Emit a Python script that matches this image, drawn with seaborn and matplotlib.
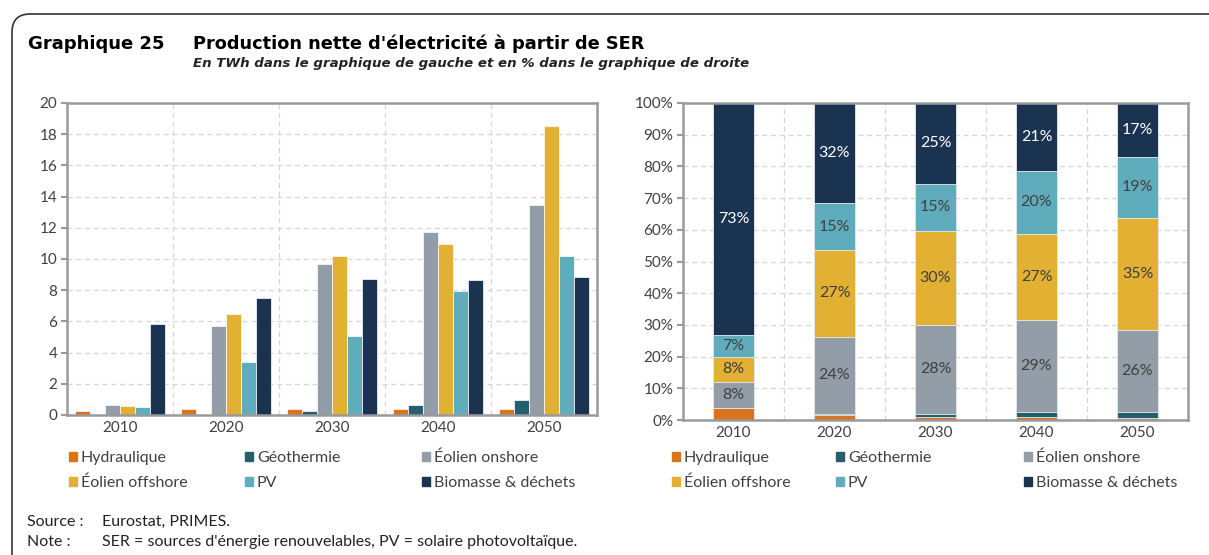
import matplotlib.pyplot as plt
import matplotlib.patches as mpatches
from matplotlib.ticker import FixedLocator, PercentFormatter
import numpy as np
import pandas as pd
import seaborn as sns

years = ["2010", "2020", "2030", "2040", "2050"]
sources = ["Hydraulique", "Géothermie", "Éolien onshore", "Éolien offshore", "PV", "Biomasse & déchets"]
colors = ["#D9731E", "#265E6F", "#939DA8", "#E2B033", "#5FACBC", "#1A3350"]

# TWh (left chart)
hydro = [0.25, 0.36, 0.36, 0.38, 0.38]
geo = [0.0, 0.02, 0.26, 0.64, 0.94]
onshore = [0.64, 5.73, 9.71, 11.72, 13.45]
offshore = [0.6, 6.46, 10.18, 10.93, 18.5]
pv = [0.51, 3.4, 5.09, 7.98, 10.18]
biomass = [5.84, 7.49, 8.75, 8.66, 8.83]

# % (right chart)
hydro_pct = [3.9, 1.5, 1.0, 0.9, 0.7]
geo_pct = [0.0, 0.4, 0.8, 1.6, 1.9]
onshore_pct = [8.1, 24.4, 28.3, 29.1, 25.7]
offshore_pct = [7.9, 27.3, 29.6, 27.1, 35.4]
pv_pct = [7.0, 14.7, 14.9, 20.0, 19.3]
biomass_pct = [73.1, 31.7, 25.4, 21.3, 17.0]

twh = [hydro, geo, onshore, offshore, pv, biomass]
pct = [hydro_pct, geo_pct, onshore_pct, offshore_pct, pv_pct, biomass_pct]

df = pd.DataFrame([(y, s, v[i]) for s, v in zip(sources, twh) for i, y in enumerate(years)],
                  columns=["year", "source", "value"])

sns.set_style("white")
plt.rcParams["font.family"] = ["Lato", "DejaVu Sans"]
txt = "#404040"
spine_c = "#9A9A9A"
grid_c = "#D6D6D6"

W, H = 1209, 555
fig = plt.figure(figsize=(W / 100, H / 100), dpi=100)

def px(x0, y0, x1, y1):
    return [x0 / W, 1 - y1 / H, (x1 - x0) / W, (y1 - y0) / H]

def style_axes(ax):
    for sp in ax.spines.values():
        sp.set_visible(True)
        sp.set_color(spine_c)
        sp.set_linewidth(1.8)
    ax.set_xlim(-0.5, 4.5)
    ax.xaxis.set_minor_locator(FixedLocator(np.arange(-0.5, 5, 1)))
    ax.tick_params(axis="x", which="major", length=0, labelsize=11, labelcolor=txt, pad=4)
    ax.tick_params(axis="x", which="minor", length=5, width=1.5, color=spine_c, direction="out")
    ax.tick_params(axis="y", which="major", length=4, width=1.5, color=spine_c, labelsize=11,
                   labelcolor=txt, left=True, pad=3)
    ax.grid(True, axis="y", which="major", color=grid_c, linestyle=(0, (4, 3)), linewidth=0.9)
    ax.grid(True, axis="x", which="minor", color=grid_c, linestyle=(0, (4, 3)), linewidth=0.9)
    ax.set_axisbelow(True)
    ax.set_xlabel("")
    ax.set_ylabel("")

# left chart
ax1 = fig.add_axes(px(67, 103, 597, 415))
sns.barplot(data=df, x="year", y="value", hue="source", hue_order=sources, palette=colors,
            width=0.84, saturation=1, edgecolor="white", linewidth=0.5, legend=False, ax=ax1)
ax1.set_ylim(0, 20)
ax1.set_yticks(np.arange(0, 21, 2))
style_axes(ax1)

# right chart (stacked, drawn from the top layer down)
ax2 = fig.add_axes(px(683, 103, 1188, 420))
cum = np.cumsum(np.array(pct), axis=0)
cum = cum / cum[-1] * 100
for k in range(len(sources) - 1, -1, -1):
    sns.barplot(x=years, y=cum[k], color=colors[k], width=0.4, saturation=1,
                edgecolor="#E8ECEF", linewidth=0.6, ax=ax2)
ax2.set_ylim(0, 100)
ax2.set_yticks(np.arange(0, 101, 10))
ax2.yaxis.set_major_formatter(PercentFormatter(decimals=0))
style_axes(ax2)
for k in range(len(sources)):
    for i in range(len(years)):
        v = pct[k][i]
        if v < 5:
            continue
        mid = cum[k][i] - v / 2
        ax2.text(i, mid, f"{v:.0f}%", ha="center", va="center", fontsize=11.5,
                 color="white" if k == 5 else txt)

# legends: three columns of two rows under each chart
for col_x in [(69, 245, 422), (672, 836, 1024)]:
    for j, x in enumerate(col_x):
        handles = [mpatches.Patch(color=colors[i], label=sources[i]) for i in (j, j + 3)]
        leg = fig.legend(handles=handles, ncol=1, loc="upper left",
                         bbox_to_anchor=(x / W, 1 - 451 / H), frameon=False, fontsize=11.5,
                         handlelength=0.5, handleheight=0.5, handletextpad=0.25,
                         labelspacing=0.68, borderaxespad=0, borderpad=0)
        for t in leg.get_texts():
            t.set_color(txt)

# titles and notes
fig.text(28 / W, 1 - 44 / H, "Graphique 25", fontsize=13, fontweight="bold", color="black",
         va="center", family="DejaVu Sans")
fig.text(193 / W, 1 - 44 / H, "Production nette d'électricité à partir de SER", fontsize=12.8,
         fontweight="bold", color="black", va="center", family="DejaVu Sans")
fig.text(193 / W, 1 - 64 / H, "En TWh dans le graphique de gauche et en % dans le graphique de droite",
         fontsize=9.6, fontweight="bold", style="italic", color="#222222", va="center",
         family="DejaVu Sans")
fig.text(27 / W, 1 - 522 / H, "Source :", fontsize=11.5, color="#222222", va="center")
fig.text(102 / W, 1 - 522 / H, "Eurostat, PRIMES.", fontsize=11.5, color="#222222", va="center")
fig.text(27 / W, 1 - 542 / H, "Note :", fontsize=11.5, color="#222222", va="center")
fig.text(102 / W, 1 - 542 / H, "SER = sources d'énergie renouvelables, PV = solaire photovoltaïque.",
         fontsize=11.5, color="#222222", va="center")

# frame
frame = mpatches.FancyBboxPatch((12 / W, -0.2), 1.2, 1 - 14 / H + 0.2,
                                boxstyle="round,pad=0,rounding_size=0.015",
                                transform=fig.transFigure, fill=False, edgecolor="#333333",
                                linewidth=1.2, mutation_aspect=W / H)
fig.patches.append(frame)

fig.savefig("out.png", dpi=100)
